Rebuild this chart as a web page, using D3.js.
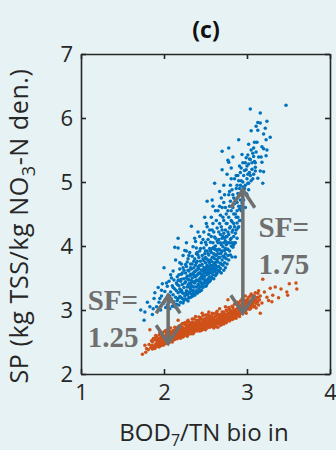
<!DOCTYPE html>
<html>
<head>
<meta charset="utf-8">
<script src="https://cdn.jsdelivr.net/npm/d3@7"></script>
<style>
  body { margin: 0; background: #e6f2f3; }
  svg { display: block; }
</style>
</head>
<body>
<script>
// tick values
var xTicks = [1, 2, 3, 4];
var yTicks = [2, 3, 4, 5, 6, 7];

// blue cloud (x = BOD7/TN, y = SP)
var bluePoints = [
  [1.72,3.00],[1.77,2.97],[1.76,2.84],[1.83,3.05],[1.80,3.12],
  [1.86,2.93],[1.88,3.18],[1.89,3.27],[1.91,3.05],[1.93,3.35],[1.94,3.12],[1.87,3.02],
  [1.96,3.00],[1.97,3.22],[1.98,3.41],[1.99,3.10],[2.00,3.66],[2.01,3.29],[2.02,3.04],[2.03,3.18],[2.04,3.37],[2.04,3.08],[2.05,3.23],[1.97,3.31],
  [2.06,3.12],[2.06,3.45],[2.07,3.02],[2.08,3.28],[2.08,3.55],[2.09,3.17],[2.10,3.38],[2.10,3.06],[2.11,3.61],[2.11,3.24],[2.12,3.13],[2.12,3.47],[2.13,3.33],[2.13,3.05],[2.14,3.78],[2.14,3.20],[2.15,3.42],[2.15,3.09],[2.09,3.50],[2.13,3.98],
  [2.16,3.15],[2.16,3.52],[2.17,3.27],[2.17,3.97],[2.17,4.12],[2.18,3.08],[2.18,3.38],[2.19,3.64],[2.19,3.21],[2.20,3.45],[2.20,3.12],[2.21,3.31],[2.21,3.72],[2.21,3.56],[2.22,3.18],[2.22,3.40],[2.23,3.26],[2.23,3.85],[2.23,3.11],[2.24,3.49],[2.24,3.35],[2.24,3.62],[2.25,3.22],[2.25,3.93],[2.18,3.47],[2.20,3.29],[2.22,3.58],
  [2.26,3.17],[2.26,3.44],[2.27,3.30],[2.27,3.68],[2.27,4.05],[2.28,3.24],[2.28,3.53],[2.29,3.39],[2.29,3.80],[2.29,3.14],[2.30,3.61],[2.30,3.28],[2.30,3.47],[2.31,3.35],[2.31,3.90],[2.31,3.19],[2.32,3.56],[2.32,3.72],[2.32,3.42],[2.33,3.25],[2.33,3.64],[2.33,4.31],[2.34,3.37],[2.34,3.50],[2.34,3.84],[2.34,3.21],[2.35,3.58],[2.35,3.31],[2.35,3.99],[2.28,3.75],[2.30,3.20],[2.32,3.33],[2.26,3.58],[2.33,3.46],
  [2.36,3.27],[2.36,3.66],[2.36,3.43],[2.37,3.52],[2.37,3.80],[2.37,3.23],[2.38,3.36],[2.38,3.61],[2.38,4.07],[2.39,3.47],[2.39,3.30],[2.39,3.74],[2.40,3.55],[2.40,3.26],[2.40,3.90],[2.41,3.40],[2.41,3.67],[2.41,4.22],[2.42,3.33],[2.42,3.58],[2.42,3.82],[2.43,3.49],[2.43,3.29],[2.43,3.70],[2.44,3.44],[2.44,3.96],[2.44,3.36],[2.45,3.62],[2.45,3.52],[2.45,3.31],[2.36,3.55],[2.38,3.45],[2.40,3.63],[2.42,3.45],[2.44,3.57],[2.41,3.28],[2.39,3.88],
  [2.46,3.39],[2.46,3.71],[2.46,3.85],[2.47,3.48],[2.47,3.35],[2.47,4.10],[2.48,3.58],[2.48,3.77],[2.48,3.42],[2.49,3.66],[2.49,4.45],[2.49,3.53],[2.50,3.37],[2.50,3.92],[2.50,3.62],[2.51,3.46],[2.51,3.80],[2.51,4.02],[2.52,3.55],[2.52,3.70],[2.52,4.70],[2.52,3.41],[2.53,3.88],[2.53,3.60],[2.53,3.49],[2.54,3.75],[2.54,4.18],[2.54,3.44],[2.55,3.64],[2.55,3.96],[2.55,3.52],[2.47,3.62],[2.49,3.43],[2.50,3.74],[2.51,3.58],[2.53,3.68],[2.54,3.57],[2.48,3.97],[2.52,4.30],
  [2.56,3.47],[2.56,3.78],[2.56,4.06],[2.57,3.58],[2.57,3.90],[2.57,3.51],[2.58,3.69],[2.58,4.72],[2.58,4.25],[2.59,3.55],[2.59,3.83],[2.59,3.63],[2.60,3.98],[2.60,3.49],[2.60,3.74],[2.61,4.98],[2.61,3.60],[2.61,4.14],[2.62,3.86],[2.62,3.54],[2.62,3.70],[2.63,4.40],[2.63,3.66],[2.63,3.94],[2.64,3.58],[2.64,3.79],[2.64,4.08],[2.65,3.62],[2.65,3.88],[2.65,4.55],[2.57,3.65],[2.58,3.96],[2.60,3.60],[2.61,3.80],[2.62,4.00],[2.63,3.75],[2.64,3.68],[2.56,3.60],[2.59,4.35],
  [2.66,3.68],[2.66,3.95],[2.66,4.22],[2.67,3.60],[2.67,3.82],[2.67,4.62],[2.68,3.73],[2.68,4.05],[2.68,3.65],[2.69,3.90],[2.69,4.30],[2.69,3.58],[2.70,3.78],[2.70,4.12],[2.70,5.19],[2.71,3.70],[2.71,3.99],[2.71,4.45],[2.72,3.84],[2.72,3.62],[2.72,4.20],[2.73,3.93],[2.73,3.74],[2.73,4.80],[2.74,4.08],[2.74,3.66],[2.74,3.88],[2.75,4.35],[2.75,3.80],[2.75,4.02],[2.70,5.48],[2.72,4.95],[2.68,4.48],[2.74,4.60],
  [2.76,3.72],[2.76,4.15],[2.76,3.95],[2.77,4.55],[2.77,3.85],[2.77,5.34],[2.78,4.05],[2.78,3.78],[2.78,5.31],[2.78,5.53],[2.79,4.28],[2.79,3.92],[2.80,4.70],[2.80,4.10],[2.80,3.86],[2.81,4.40],[2.81,5.22],[2.81,4.00],[2.82,3.83],[2.82,4.22],[2.82,4.88],[2.83,4.60],[2.83,5.39],[2.83,3.98],[2.84,4.15],[2.84,4.35],[2.85,5.05],[2.85,4.05],[2.79,4.85],[2.84,4.75],
  [2.86,4.05],[2.86,4.50],[2.86,3.83],[2.87,4.25],[2.87,4.90],[2.88,4.36],[2.88,4.68],[2.88,4.12],[2.89,5.10],[2.89,4.45],[2.90,5.66],[2.90,4.30],[2.90,4.80],[2.91,4.58],[2.91,5.25],[2.92,4.40],[2.92,4.95],[2.93,5.22],[2.93,4.62],[2.94,4.67],[2.94,5.43],[2.94,4.85],[2.95,5.00],
  [2.96,4.72],[2.96,5.10],[2.97,4.90],[2.98,5.30],[2.98,4.60],[2.99,5.19],[2.99,4.82],[3.00,5.05],[3.01,4.98],[3.01,5.42],[3.02,5.28],[3.02,5.59],[3.02,4.88],[3.03,5.15],[3.04,6.14],[3.04,5.35],[3.05,5.80],[3.05,5.02],
  [3.06,5.20],[3.07,5.45],[3.08,5.53],[3.08,5.12],[3.09,5.32],[3.10,5.17],[3.10,5.23],[3.11,5.47],[3.11,5.87],[3.12,5.62],[3.13,5.81],[3.13,5.93],[3.13,5.06],[3.14,5.39],
  [3.16,6.08],[3.16,5.92],[3.16,5.17],[3.17,5.39],[3.18,5.31],[3.18,5.55],[3.19,4.98],[3.20,5.75],[3.20,5.52],[3.20,5.16],[3.22,5.84],[3.23,5.66],[3.23,5.41],[3.24,5.95],[3.24,5.50],
  [3.47,6.20],[3.28,5.70]
];

// denser middle of the blue cloud
var blueCore = [
  [2.15,3.30],[2.16,3.40],[2.17,3.18],[2.18,3.55],[2.19,3.33],[2.20,3.20],[2.21,3.48],[2.22,3.27],[2.23,3.66],[2.24,3.15],[2.25,3.42],[2.19,3.74],[2.17,3.46],
  [2.26,3.26],[2.26,3.71],[2.27,3.50],[2.28,3.36],[2.28,3.16],[2.29,3.62],[2.29,3.25],[2.30,3.41],[2.30,3.85],[2.31,3.53],[2.31,3.28],[2.32,3.66],[2.32,3.20],[2.33,3.38],[2.33,3.55],[2.34,3.30],[2.34,3.72],[2.35,3.44],[2.35,3.24],[2.29,3.48],[2.27,3.92],
  [2.36,3.36],[2.36,3.76],[2.37,3.60],[2.37,3.42],[2.38,3.28],[2.38,3.70],[2.39,3.53],[2.39,3.97],[2.40,3.36],[2.40,3.46],[2.40,3.76],[2.41,3.56],[2.41,3.86],[2.42,3.65],[2.42,3.39],[2.43,3.58],[2.43,3.92],[2.44,3.50],[2.44,3.76],[2.45,3.42],[2.45,3.70],[2.45,4.05],[2.37,4.12],[2.43,4.15],
  [2.46,3.55],[2.46,3.62],[2.47,3.80],[2.47,3.41],[2.48,3.66],[2.48,3.51],[2.49,3.88],[2.49,3.60],[2.50,3.47],[2.50,4.06],[2.50,3.82],[2.51,3.66],[2.51,3.38],[2.52,3.92],[2.52,3.62],[2.53,3.78],[2.53,4.10],[2.53,3.43],[2.54,3.66],[2.54,3.86],[2.55,3.45],[2.55,3.74],[2.55,4.25],[2.48,4.22],[2.51,4.35],
  [2.56,3.70],[2.56,3.92],[2.57,3.76],[2.57,4.15],[2.58,3.50],[2.58,3.82],[2.59,3.70],[2.59,4.05],[2.60,3.88],[2.60,3.66],[2.60,4.22],[2.61,3.95],[2.61,3.72],[2.62,3.62],[2.62,4.12],[2.63,3.85],[2.63,3.56],[2.64,3.92],[2.64,4.28],[2.65,3.75],[2.65,4.05],[2.57,4.45],[2.62,4.55],[2.59,4.62],
  [2.66,3.82],[2.66,4.10],[2.67,3.94],[2.67,4.35],[2.68,3.88],[2.68,4.18],[2.69,4.02],[2.69,3.72],[2.70,3.92],[2.70,4.25],[2.70,4.60],[2.71,3.84],[2.71,4.15],[2.72,4.05],[2.72,4.40],[2.73,3.82],[2.73,4.12],[2.74,4.25],[2.74,3.96],[2.75,4.15],[2.75,4.50],[2.69,4.75],[2.72,4.68],[2.67,4.85],
  [2.76,4.05],[2.76,4.35],[2.77,4.22],[2.77,3.95],[2.78,4.45],[2.78,4.18],[2.79,4.05],[2.79,4.62],[2.80,4.30],[2.80,4.95],[2.81,4.12],[2.81,4.55],[2.82,4.38],[2.82,4.05],[2.83,4.80],[2.83,4.25],[2.84,4.50],[2.84,4.02],[2.85,4.66],[2.85,4.30],[2.78,4.80],[2.81,5.05],[2.76,5.12],
  [2.86,4.20],[2.86,4.72],[2.87,4.45],[2.87,5.10],[2.88,4.55],[2.88,4.95],[2.89,4.28],[2.89,4.82],[2.90,4.62],[2.90,5.02],[2.91,4.40],[2.91,4.90],[2.92,4.72],[2.92,5.15],[2.93,4.55],[2.93,5.02],[2.94,4.78],[2.95,4.92],[2.95,5.30],
  [2.96,4.85],[2.97,5.18],[2.98,4.95],[2.99,5.38],[3.00,4.80],[3.00,5.25],[3.01,5.12],[3.02,4.98],[3.03,5.36],[3.04,5.10],[3.05,5.50],[3.06,5.30],[3.07,5.05],[3.08,5.40],[3.09,5.62],[3.10,5.30],
  [1.95,3.18],[2.00,3.12],[2.03,3.42],[2.07,3.22],[2.11,3.35],[2.12,3.08]
];

// orange band
var orangePoints = [
  [1.74,2.31],[1.78,2.34],[1.79,2.40],[1.77,2.45],
  [1.81,2.38],[1.82,2.46],[1.83,2.69],[1.84,2.41],[1.85,2.52],[1.86,2.50],[1.86,2.39],[1.87,2.44],[1.88,2.56],[1.88,2.42],[1.89,2.53],[1.90,2.47],
  [1.91,2.43],[1.91,2.58],[1.92,2.50],[1.92,2.45],[1.93,2.55],[1.93,2.44],[1.94,2.61],[1.94,2.48],[1.95,2.52],[1.95,2.46],[1.96,2.57],[1.96,2.44],[1.97,2.50],[1.97,2.62],[1.98,2.47],[1.98,2.55],[1.99,2.52],[1.99,2.45],[2.00,2.58],[2.00,2.49],
  [2.01,2.54],[2.01,2.47],[2.02,2.60],[2.02,2.51],[2.03,2.48],[2.03,2.64],[2.04,2.55],[2.04,2.50],[2.05,2.57],[2.05,2.48],[2.05,2.70],[2.06,2.53],[2.06,2.62],[2.07,2.50],[2.07,2.58],[2.08,2.66],[2.08,2.54],[2.09,2.51],[2.09,2.60],[2.10,2.56],[2.10,2.64],[2.10,2.52],
  [2.11,2.59],[2.11,2.53],[2.12,2.68],[2.12,2.56],[2.13,2.62],[2.13,2.54],[2.14,2.72],[2.14,2.60],[2.15,2.57],[2.15,2.66],[2.16,2.55],[2.16,2.63],[2.17,2.84],[2.17,2.60],[2.18,2.68],[2.18,2.57],[2.19,2.64],[2.19,2.59],[2.20,2.70],[2.20,2.61],[2.20,2.56],[2.13,2.66],[2.16,2.69],[2.19,2.75],
  [2.21,2.64],[2.21,2.59],[2.22,2.73],[2.22,2.62],[2.23,2.58],[2.23,2.67],[2.24,2.78],[2.24,2.63],[2.25,2.60],[2.25,2.70],[2.26,2.65],[2.26,2.61],[2.27,2.74],[2.27,2.68],[2.28,2.63],[2.28,2.82],[2.29,2.66],[2.29,2.71],[2.30,2.62],[2.30,2.69],[2.30,2.76],[2.23,2.72],[2.26,2.77],[2.28,2.59],[2.25,2.66],[2.22,2.68],
  [2.31,2.67],[2.31,2.72],[2.32,2.64],[2.32,2.79],[2.33,2.70],[2.33,2.66],[2.34,2.75],[2.34,2.86],[2.35,2.68],[2.35,2.73],[2.36,2.65],[2.36,2.80],[2.37,2.71],[2.37,2.76],[2.38,2.68],[2.38,2.90],[2.39,2.74],[2.39,2.70],[2.40,2.67],[2.40,2.82],[2.40,2.77],[2.33,2.77],[2.36,2.71],[2.38,2.79],[2.32,2.69],[2.35,2.63],
  [2.41,2.72],[2.41,2.69],[2.42,2.78],[2.42,2.84],[2.43,2.71],[2.43,2.75],[2.44,2.68],[2.44,2.88],[2.45,2.74],[2.45,2.80],[2.46,2.71],[2.46,2.95],[2.47,2.77],[2.47,2.73],[2.48,2.82],[2.48,2.70],[2.49,2.76],[2.49,2.86],[2.50,2.73],[2.50,2.79],[2.50,2.92],[2.43,2.81],[2.45,2.68],[2.47,2.84],[2.49,2.71],[2.42,2.74],
  [2.51,2.76],[2.51,2.82],[2.52,2.72],[2.52,2.88],[2.53,2.79],[2.53,2.74],[2.54,2.84],[2.54,2.97],[2.55,2.77],[2.55,2.73],[2.56,2.86],[2.56,2.80],[2.57,2.75],[2.57,2.91],[2.58,2.82],[2.58,2.78],[2.59,2.88],[2.59,2.74],[2.60,2.81],[2.60,2.94],[2.60,2.77],[2.52,2.80],[2.55,2.90],[2.57,2.84],[2.59,2.79],[2.54,2.76],
  [2.61,2.84],[2.61,2.78],[2.62,2.90],[2.62,2.75],[2.63,2.81],[2.63,2.96],[2.64,2.86],[2.64,2.79],[2.65,2.73],[2.65,2.92],[2.66,2.83],[2.66,2.88],[2.67,2.78],[2.67,3.02],[2.68,2.85],[2.68,2.81],[2.69,2.93],[2.69,2.77],[2.70,2.87],[2.70,2.83],[2.62,2.83],[2.64,2.93],[2.66,2.79],[2.68,2.90],
  [2.71,2.80],[2.71,2.91],[2.72,2.86],[2.72,2.97],[2.73,2.82],[2.73,2.89],[2.74,3.05],[2.74,2.85],[2.75,2.93],[2.75,2.80],[2.76,2.88],[2.76,2.99],[2.77,2.84],[2.77,3.16],[2.78,2.92],[2.78,2.87],[2.79,3.01],[2.79,2.83],[2.80,2.90],[2.80,2.95],[2.72,2.92],[2.75,2.86],[2.77,2.95],[2.79,2.90],
  [2.81,2.88],[2.81,2.98],[2.82,2.92],[2.82,2.85],[2.83,3.04],[2.83,2.90],[2.84,2.96],[2.84,2.87],[2.85,3.09],[2.85,2.93],[2.86,2.89],[2.86,3.00],[2.87,2.95],[2.87,2.91],[2.88,3.12],[2.88,2.97],[2.89,2.92],[2.89,3.03],[2.90,2.94],[2.90,3.07],[2.83,2.95],[2.86,2.94],
  [2.91,2.98],[2.91,2.93],[2.92,3.05],[2.92,3.14],[2.93,2.96],[2.93,3.01],[2.94,3.09],[2.94,2.95],[2.95,3.03],[2.95,3.18],[2.96,2.99],[2.96,3.07],[2.97,3.02],[2.97,3.12],[2.98,2.98],[2.98,3.22],[2.99,3.05],[2.99,3.10],[3.00,3.01],[3.00,3.15],
  [3.01,3.06],[3.01,3.12],[3.02,3.03],[3.02,3.20],[3.03,3.08],[3.04,3.14],[3.04,3.02],[3.05,3.11],[3.05,3.25],[3.06,3.07],[3.07,3.17],[3.07,3.10],[3.08,3.13],[3.09,3.22],[3.09,3.06],[3.10,3.15],
  [3.11,3.10],[3.12,3.19],[3.13,3.13],[3.13,3.26],[3.14,3.30],[3.15,3.16],[3.16,2.95],[3.16,3.22],[3.18,3.11],[3.19,3.48],
  [3.21,3.28],[3.24,3.20],[3.28,3.34],[3.30,3.13],[3.31,3.23],[3.34,3.36],[3.41,3.33],[3.48,3.28],[3.49,3.23],[3.51,3.41],[3.59,3.42],[3.60,3.33],[3.38,3.19],[3.26,3.15]
];

// thicker part of the orange band
var orangeCore = [
  [1.85,2.44],[1.87,2.55],[1.89,2.40],[1.90,2.60],[1.92,2.53],[1.94,2.42],[1.95,2.64],[1.97,2.56],[1.99,2.49],[2.00,2.66],
  [2.01,2.58],[2.02,2.68],[2.03,2.53],[2.04,2.62],[2.05,2.52],[2.06,2.66],[2.07,2.55],[2.08,2.72],[2.09,2.63],[2.10,2.50],[2.11,2.68],[2.12,2.61],[2.13,2.73],[2.14,2.56],[2.15,2.70],[2.16,2.60],[2.17,2.74],[2.18,2.63],[2.19,2.68],[2.20,2.76],
  [2.21,2.69],[2.22,2.79],[2.23,2.62],[2.24,2.71],[2.25,2.80],[2.26,2.69],[2.27,2.62],[2.28,2.77],[2.29,2.84],[2.30,2.72],[2.31,2.80],[2.32,2.74],[2.33,2.63],[2.34,2.81],[2.35,2.77],[2.36,2.86],[2.37,2.67],[2.38,2.74],[2.39,2.84],[2.40,2.72],
  [2.41,2.78],[2.42,2.89],[2.43,2.67],[2.44,2.79],[2.45,2.86],[2.46,2.76],[2.47,2.91],[2.48,2.74],[2.49,2.81],[2.50,2.69],[2.51,2.87],[2.52,2.77],[2.53,2.93],[2.54,2.81],[2.55,2.86],[2.56,2.74],[2.57,2.80],[2.58,2.95],[2.59,2.84],[2.60,2.72],
  [2.61,2.89],[2.62,2.80],[2.63,2.74],[2.64,2.98],[2.65,2.85],[2.66,2.93],[2.67,2.82],[2.68,2.76],[2.69,2.88],[2.70,2.97],[2.71,2.85],[2.72,2.78],[2.73,2.94],[2.74,2.90],[2.75,3.00],[2.76,2.83],[2.77,2.91],[2.78,3.04],[2.79,2.86],[2.80,2.99],
  [2.81,2.93],[2.82,3.06],[2.83,2.86],[2.84,3.00],[2.85,2.97],[2.86,3.10],[2.87,2.87],[2.88,3.02],[2.89,2.97],[2.90,3.11],[2.91,2.90],[2.92,3.00],[2.93,3.08],[2.94,3.17],[2.95,2.96],[2.96,3.12],[2.97,3.06],[2.98,3.15],[2.99,2.95],[3.00,3.08],
  [3.01,3.17],[3.02,3.09],[3.03,3.01],[3.04,3.22],[3.05,3.04],[3.06,3.15],[3.07,3.23],[3.08,3.05],[3.09,3.17],[3.10,3.27],[3.11,3.03],[3.12,3.14],[3.13,3.20],[3.14,3.08]
];

// safety factor arrows: x, y top, y bottom
var sfArrows = [
  {x: 2.05, y0: 3.23, y1: 2.48},
  {x: 2.95, y0: 4.88, y1: 2.95}
];
var sfLabels = [
  {x: 1.08, y: 3.0, lines: ["SF=", "1.25"]},
  {x: 3.14, y: 4.14, lines: ["SF=", "1.75"]}
];

var width = 336, height = 450;
var mLeft = 81, mRight = 330, mTop = 54, mBottom = 374;
var axisColor = "#262626";
var sans = "'Open Sans', sans-serif";

var svg = d3.select("body").append("svg")
    .attr("width", width)
    .attr("height", height);

svg.append("rect")
    .attr("width", width)
    .attr("height", height)
    .attr("fill", "#e6f2f3");

var x = d3.scaleLinear().domain([1, 4]).range([mLeft, mRight]);
var y = d3.scaleLinear().domain([2, 7]).range([mBottom, mTop]);

// dots
svg.append("g").selectAll("circle")
    .data(bluePoints.concat(blueCore))
    .enter().append("circle")
    .attr("cx", function(d) { return x(d[0]); })
    .attr("cy", function(d) { return y(d[1]); })
    .attr("r", 1.75)
    .attr("fill", "#0072bd");

svg.append("g").selectAll("circle")
    .data(orangePoints.concat(orangeCore))
    .enter().append("circle")
    .attr("cx", function(d) { return x(d[0]); })
    .attr("cy", function(d) { return y(d[1]); })
    .attr("r", 1.75)
    .attr("fill", "#cf5119");

// axes, ticks inside the box
function styleAxis(g) {
    g.selectAll("path").attr("stroke", axisColor).attr("stroke-width", 1.6);
    g.selectAll("line").attr("stroke", axisColor).attr("stroke-width", 1.6);
    g.selectAll("text").attr("fill", axisColor).attr("font-family", sans).attr("font-size", 22);
}

svg.append("g")
    .attr("transform", "translate(0," + mBottom + ")")
    .call(d3.axisBottom(x).tickValues(xTicks).tickFormat(d3.format("d")).tickSizeInner(-5).tickSizeOuter(0).tickPadding(10))
    .call(styleAxis);

svg.append("g")
    .attr("transform", "translate(" + mLeft + ",0)")
    .call(d3.axisLeft(y).tickValues(yTicks).tickFormat(d3.format("d")).tickSizeInner(-5).tickSizeOuter(0).tickPadding(8))
    .call(styleAxis);

svg.append("g")
    .attr("transform", "translate(0," + mTop + ")")
    .call(d3.axisTop(x).tickValues(xTicks).tickSizeInner(-5).tickSizeOuter(0).tickFormat(""))
    .call(styleAxis);

svg.append("g")
    .attr("transform", "translate(" + mRight + ",0)")
    .call(d3.axisRight(y).tickValues(yTicks).tickSizeInner(-5).tickSizeOuter(0).tickFormat(""))
    .call(styleAxis);

// arrows
var arrowColor = "#6f6f6f";
var arrows = svg.append("g")
    .attr("stroke", arrowColor)
    .attr("stroke-width", 3.5)
    .attr("fill", "none");

sfArrows.forEach(function(a) {
    var ax = x(a.x), y0 = y(a.y0), y1 = y(a.y1);
    arrows.append("line")
        .attr("x1", ax).attr("x2", ax)
        .attr("y1", y0).attr("y2", y1);
    arrows.append("path")
        .attr("d", "M" + (ax - 12) + "," + (y0 + 18) + "L" + ax + "," + y0 + "L" + (ax + 12) + "," + (y0 + 18));
    arrows.append("path")
        .attr("d", "M" + (ax - 12) + "," + (y1 - 18) + "L" + ax + "," + y1 + "L" + (ax + 12) + "," + (y1 - 18));
});

sfLabels.forEach(function(l) {
    var t = svg.append("text")
        .attr("x", x(l.x))
        .attr("y", y(l.y))
        .attr("fill", arrowColor)
        .attr("font-family", "'Liberation Serif', serif")
        .attr("font-weight", "bold")
        .attr("font-size", 29);
    l.lines.forEach(function(s, i) {
        t.append("tspan").attr("x", x(l.x)).attr("dy", i === 0 ? 0 : 37).text(s);
    });
});

// title
svg.append("text")
    .attr("x", 206)
    .attr("y", 38)
    .attr("text-anchor", "middle")
    .attr("font-family", sans)
    .attr("font-weight", "bold")
    .attr("font-size", 23)
    .attr("fill", "#111")
    .text("(c)");

// x label
var xl = svg.append("text")
    .attr("x", 204)
    .attr("y", 441)
    .attr("text-anchor", "middle")
    .attr("font-family", sans)
    .attr("font-size", 24)
    .attr("fill", axisColor);
xl.append("tspan").text("BOD");
xl.append("tspan").attr("font-size", 16).attr("dy", 5).text("7");
xl.append("tspan").attr("dy", -5).text("/TN bio in");

// y label
var yl = svg.append("text")
    .attr("transform", "translate(28,226) rotate(-90)")
    .attr("text-anchor", "middle")
    .attr("font-family", sans)
    .attr("font-size", 25)
    .attr("letter-spacing", 0.6)
    .attr("fill", axisColor);
yl.append("tspan").text("SP (kg TSS/kg NO");
yl.append("tspan").attr("font-size", 18).attr("dy", 7).text("3");
yl.append("tspan").attr("dy", -7).text("-N den.)");
</script>
</body>
</html>
